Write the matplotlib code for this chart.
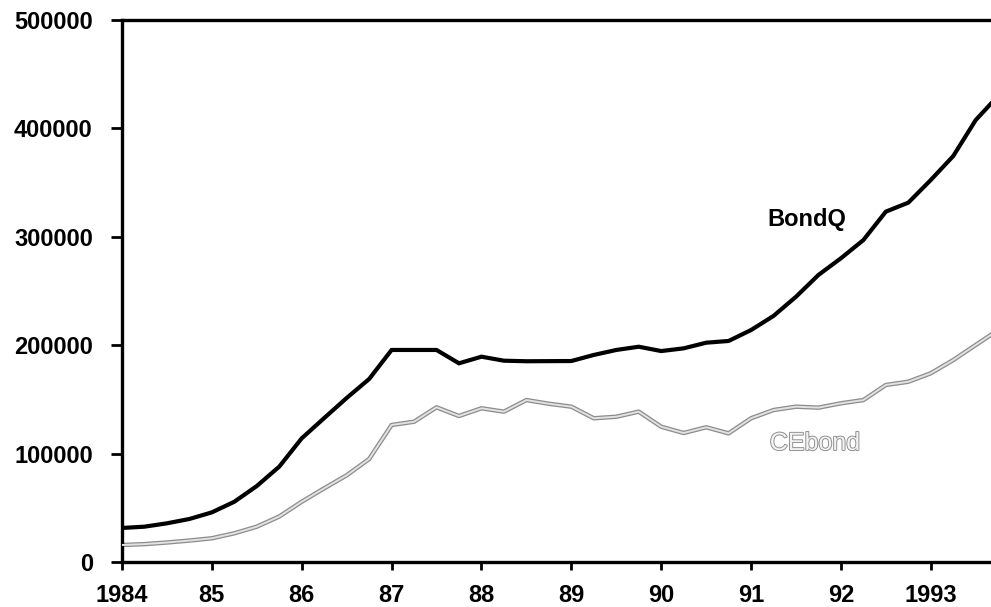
import numpy as np
import matplotlib
matplotlib.use("Agg")
import matplotlib.pyplot as plt
import matplotlib.patheffects as pe

plt.rcParams["font.family"] = ["Liberation Sans", "DejaVu Sans"]

# quarterly observations, 1984Q1 .. 1993Q4
quarters = np.arange(1984.0, 1994.0, 0.25)

bondq = [
    31400, 32600, 35700, 39700,
    45800, 55600, 70100, 88000,
    114100, 132800, 151300, 168800,
    195600, 195600, 195600, 183300,
    189400, 185700, 185200, 185300,
    185400, 191000, 195600, 198600,
    194600, 197100, 202300, 203900,
    214000, 227000, 244700, 264800,
    280200, 297000, 323200, 331500,
    352400, 374500, 407700, 430000,
]

cebond = [
    15700, 16500, 18000, 19800,
    21900, 26500, 32600, 42000,
    55600, 68000, 80000, 95000,
    126400, 129400, 142700, 134700,
    141800, 138700, 149400, 146000,
    143300, 132600, 134000, 138700,
    124800, 119000, 124300, 118700,
    132600, 140200, 143300, 142400,
    146400, 149400, 163300, 166300,
    174100, 186300, 200200, 214000,
]

x_ticks = [1984, 1985, 1986, 1987, 1988, 1989, 1990, 1991, 1992, 1993]
x_labels = ["1984", "85", "86", "87", "88", "89", "90", "91", "92", "1993"]
y_ticks = [0, 100000, 200000, 300000, 400000, 500000]

fig = plt.figure(figsize=(9.91, 6.07), dpi=100)
ax = fig.add_axes([0.1231, 0.0741, 0.8769, 0.893])

# CEbond: light grey line with a darker speckled outline
ax.plot(quarters, cebond, color="#8c8c8c", lw=3.2, solid_joinstyle="round", zorder=2)
ax.plot(quarters, cebond, color="#e2e2e2", lw=1.4, solid_joinstyle="round", zorder=3)
ax.plot(quarters, bondq, color="black", lw=3.0, solid_joinstyle="miter", zorder=4)

ax.text(1991.62, 315500, "BondQ", fontsize=17, fontweight="bold",
        ha="center", va="center", color="black")
ax.text(1991.71, 109800, "CEbond", fontsize=18, ha="center", va="center",
        color="#f2f2f2",
        path_effects=[pe.withStroke(linewidth=1.3, foreground="#8a8a8a")])

ax.set_xlim(1984, 1993.67)
ax.set_ylim(0, 500000)
ax.set_xticks(x_ticks)
ax.set_xticklabels(x_labels)
ax.set_yticks(y_ticks)
ax.set_yticklabels([str(v) for v in y_ticks])

for lab in ax.get_xticklabels() + ax.get_yticklabels():
    lab.set_fontweight("bold")
    lab.set_fontsize(17)

ax.tick_params(axis="y", direction="out", length=8, width=2, pad=13)
ax.tick_params(axis="x", direction="out", length=6, width=2, pad=10)

for side in ["left", "bottom", "top"]:
    ax.spines[side].set_linewidth(2.4)
ax.spines["right"].set_visible(False)

fig.savefig("out.png", dpi=100)
